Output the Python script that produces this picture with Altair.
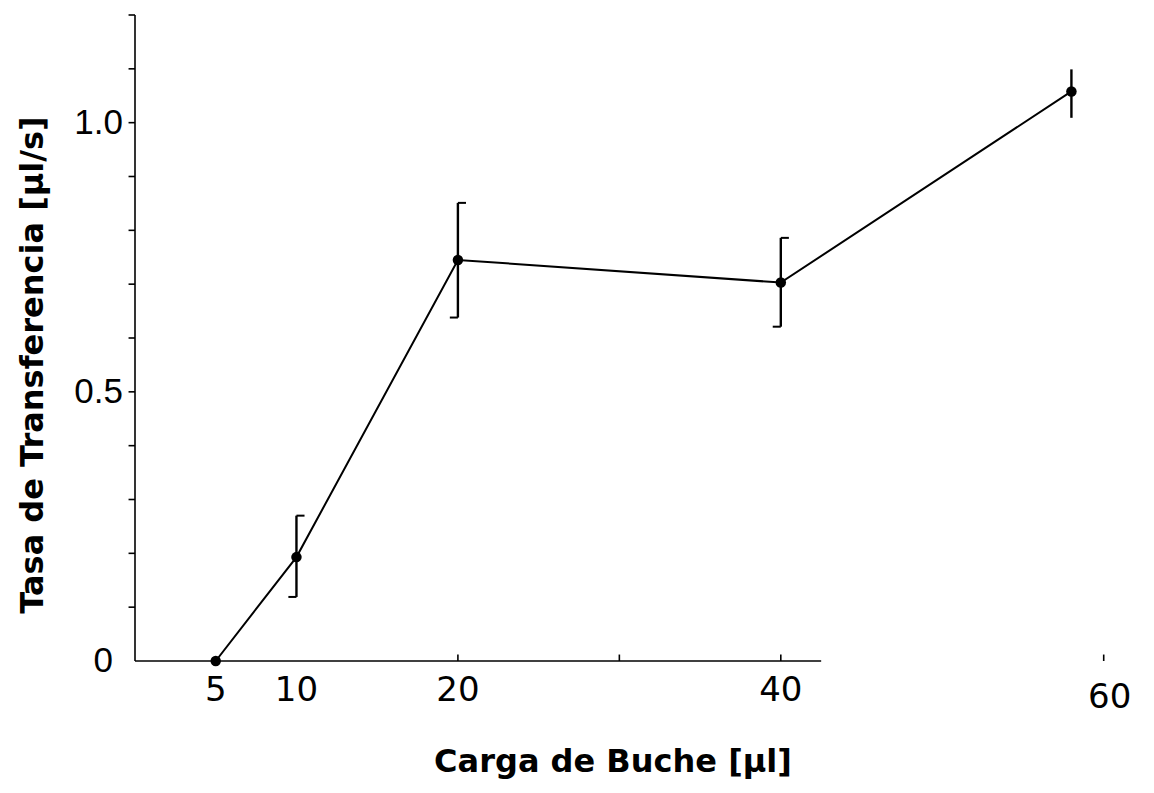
import altair as alt
import pandas as pd

# Crop load (µl) vs. transfer rate (µl/s)
carga = [5, 10, 20, 40, 58]
tasa = [0.0, 0.193, 0.745, 0.703, 1.058]
err_hi = [None, 0.270, 0.851, 0.786, 1.099]
err_lo = [None, 0.119, 0.638, 0.621, 1.009]

x_tick_values = [5, 10, 20, 40, 60]
x_tick_labels = ["5", "10", "20", "40", "60"]
y_tick_values = [0.5, 1.0]
y_tick_labels = ["0.5", "1.0"]
y_minor = [0.1, 0.2, 0.3, 0.4, 0.5, 0.6, 0.7, 0.8, 0.9, 1.0, 1.1, 1.2]
x_minor = [20, 30, 40, 60]

FONT = "Liberation Sans"
XFONT = "DejaVu Sans"
X_DOM = [0, 62]
Y_DOM = [0, 1.2]

xs = alt.Scale(domain=X_DOM, nice=False, zero=False)
ys = alt.Scale(domain=Y_DOM, nice=False, zero=False)

pts = pd.DataFrame({"carga": carga, "tasa": tasa})
bars = pd.DataFrame({"carga": carga, "hi": err_hi, "lo": err_lo}).dropna()
bars["cap_r"] = bars["carga"] + 0.5
bars["cap_l"] = bars["carga"] - 0.5
caps = bars[bars["carga"] < 50]

# hand-drawn style axes: segments from (x, y) to (x2, y2)
seg = pd.concat([
    pd.DataFrame({"x": [0, 0], "x2": [42.5, 0], "y": [0, 0], "y2": [0, 1.2]}),
    pd.DataFrame({"x": x_minor, "x2": x_minor, "y": 0.0, "y2": 0.012}),
    pd.DataFrame({"x": -0.4, "x2": 0.0, "y": y_minor, "y2": y_minor}),
], ignore_index=True)
axis_lines = alt.Chart(seg).mark_rule(color="black", strokeWidth=1.6).encode(
    x=alt.X("x:Q", scale=xs, axis=None), x2="x2:Q",
    y=alt.Y("y:Q", scale=ys, axis=None), y2="y2:Q",
)

xlab_df = pd.DataFrame({"v": x_tick_values, "t": x_tick_labels})
xlabels = alt.Chart(xlab_df[xlab_df["v"] < 50]).mark_text(
    font=XFONT, fontSize=34, baseline="alphabetic", align="center"
).encode(x=alt.X("v:Q", scale=xs, axis=None), y=alt.value(686), text="t:N")
xlabel60 = alt.Chart(xlab_df[xlab_df["v"] > 50]).mark_text(
    font=XFONT, fontSize=34, baseline="alphabetic", align="center", dx=6
).encode(x=alt.X("v:Q", scale=xs, axis=None), y=alt.value(693), text="t:N")

ylab_df = pd.DataFrame({"v": y_tick_values, "t": y_tick_labels})
ylabels = alt.Chart(ylab_df).mark_text(
    font=FONT, fontSize=35, baseline="middle", align="right"
).encode(y=alt.Y("v:Q", scale=ys, axis=None), x=alt.value(-12), text="t:N")
ylabel0 = alt.Chart(pd.DataFrame({"v": [0.0], "t": ["0"]})).mark_text(
    font=FONT, fontSize=35, baseline="middle", align="right"
).encode(y=alt.Y("v:Q", scale=ys, axis=None), x=alt.value(-22), text="t:N")

line = alt.Chart(pts).mark_line(color="black", strokeWidth=2).encode(
    x=alt.X("carga:Q", scale=xs, axis=None), y=alt.Y("tasa:Q", scale=ys, axis=None)
)
dots = alt.Chart(pts).mark_circle(color="black", opacity=1, size=110).encode(
    x=alt.X("carga:Q", scale=xs, axis=None), y=alt.Y("tasa:Q", scale=ys, axis=None)
)
ebars = alt.Chart(bars).mark_rule(color="black", strokeWidth=2.4).encode(
    x=alt.X("carga:Q", scale=xs, axis=None),
    y=alt.Y("lo:Q", scale=ys, axis=None), y2="hi:Q",
)
cap_top = alt.Chart(caps).mark_rule(color="black", strokeWidth=2).encode(
    x=alt.X("carga:Q", scale=xs, axis=None), x2="cap_r:Q",
    y=alt.Y("hi:Q", scale=ys, axis=None),
)
cap_bot = alt.Chart(caps).mark_rule(color="black", strokeWidth=2).encode(
    x=alt.X("cap_l:Q", scale=xs, axis=None), x2="carga:Q",
    y=alt.Y("lo:Q", scale=ys, axis=None),
)

xtitle = alt.Chart(pd.DataFrame({"t": ["Carga de Buche [μl]"]})).mark_text(
    font=XFONT, fontSize=32, fontWeight="bold", align="center", baseline="alphabetic"
).encode(x=alt.value(478), y=alt.value(757), text="t:N")
ytitle = alt.Chart(pd.DataFrame({"t": ["Tasa de Transferencia [μl/s]"]})).mark_text(
    font=XFONT, fontSize=32, fontWeight="bold", align="center", baseline="alphabetic", angle=270
).encode(x=alt.value(-92), y=alt.value(350), text="t:N")

chart = alt.layer(
    axis_lines, xlabels, xlabel60, ylabels, ylabel0,
    line, ebars, cap_top, cap_bot, dots, xtitle, ytitle,
).properties(
    width=1001, height=646,
    padding={"left": 135, "top": 15, "right": 18, "bottom": 132},
    autosize="none",
    background="white",
).configure_view(stroke=None)

chart.save("out.html", embed_options={"renderer": "svg", "actions": False})
